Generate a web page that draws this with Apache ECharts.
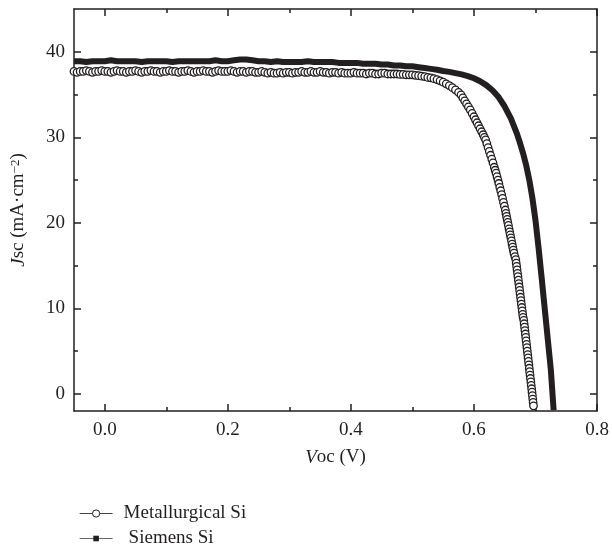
<!DOCTYPE html>
<html>
<head>
<meta charset="utf-8">
<script src="https://cdn.jsdelivr.net/npm/echarts@6/dist/echarts.min.js"></script>
<style>html,body{margin:0;padding:0;background:#fff}#c{width:612px;height:546px}</style>
</head>
<body>
<div id="c"></div>
<script>
// ---- data ----
const xMajorTicks = [0.0, 0.2, 0.4, 0.6, 0.8];
const xMinorTicks = [0.1, 0.3, 0.5, 0.7];
const yMajorTicks = [0, 10, 20, 30, 40];
const yMinorTicks = [5, 15, 25, 35];
const seriesNames = ['Metallurgical Si', 'Siemens Si'];

// Metallurgical Si (open circles)
const metV = [
  -0.050,-0.045,-0.040,-0.035,-0.030,-0.025,-0.020,-0.015,-0.010,-0.005,
  0.000,0.005,0.010,0.015,0.020,0.025,0.030,0.035,0.040,0.045,
  0.050,0.055,0.060,0.065,0.070,0.075,0.080,0.085,0.090,0.095,
  0.100,0.105,0.110,0.115,0.120,0.125,0.130,0.135,0.140,0.145,
  0.150,0.155,0.160,0.165,0.170,0.175,0.180,0.185,0.190,0.195,
  0.200,0.205,0.210,0.215,0.220,0.225,0.230,0.235,0.240,0.245,
  0.250,0.255,0.260,0.265,0.270,0.275,0.280,0.285,0.290,0.295,
  0.300,0.305,0.310,0.315,0.320,0.325,0.330,0.335,0.340,0.345,
  0.350,0.355,0.360,0.365,0.370,0.375,0.380,0.385,0.390,0.395,
  0.400,0.405,0.410,0.415,0.420,0.425,0.430,0.435,0.440,0.445,
  0.450,0.455,0.460,0.465,0.470,0.475,0.480,0.485,0.490,0.495,
  0.500,0.505,0.510,0.515,0.520,0.525,0.530,0.535,0.540,
  0.545,0.550,0.555,0.560,0.565,0.570,0.575,
  0.579,0.582,0.585,0.588,0.591,0.594,0.597,
  0.600,0.6025,0.605,0.6075,0.610,0.6125,0.615,0.617,0.619,
  0.621,0.623,0.625,0.627,0.629,0.631,0.633,0.6345,0.636,
  0.6375,0.639,0.6405,0.642,0.6435,0.645,0.6465,0.648,0.6495,0.651,0.652,
  0.653,0.654,0.655,0.656,0.657,0.658,0.659,0.660,0.661,0.662,0.663,0.664,0.665,0.6665,0.668,
  0.6687,0.6694,0.6701,0.6708,0.6715,0.6722,0.6729,0.6736,0.6743,0.6750,0.6757,0.6764,0.6771,0.6778,0.6785,0.6792,0.6799,0.6810,
  0.6816,0.6823,0.6829,0.6836,0.6842,0.6848,0.6855,0.6861,0.6867,0.6874,0.6880,0.6886,0.6893,0.6899,0.6905,0.6912,0.6918,0.6925,0.6931,0.6938,0.6944,0.6950,0.6956,0.6962,0.6968
];
const metJ = [
  37.7,37.6,37.7,37.7,37.8,37.7,37.6,37.7,37.7,37.8,
  37.7,37.7,37.6,37.7,37.8,37.7,37.7,37.6,37.7,37.7,
  37.8,37.7,37.6,37.7,37.7,37.8,37.7,37.7,37.6,37.7,
  37.7,37.8,37.7,37.7,37.6,37.7,37.7,37.8,37.7,37.6,
  37.7,37.7,37.8,37.7,37.7,37.6,37.7,37.8,37.7,37.7,
  37.7,37.8,37.7,37.6,37.7,37.7,37.6,37.7,37.7,37.6,
  37.6,37.7,37.6,37.5,37.6,37.5,37.5,37.6,37.5,37.6,
  37.6,37.5,37.6,37.6,37.7,37.6,37.6,37.7,37.6,37.6,
  37.7,37.6,37.6,37.5,37.6,37.6,37.5,37.6,37.5,37.5,
  37.5,37.6,37.5,37.5,37.5,37.4,37.5,37.5,37.4,37.4,
  37.5,37.5,37.4,37.4,37.4,37.4,37.35,37.35,37.3,37.3,
  37.3,37.25,37.2,37.15,37.1,37.0,36.95,36.85,36.75,
  36.6,36.45,36.25,36.05,35.8,35.55,35.25,
  34.95,34.6,34.25,33.9,33.55,33.2,32.8,
  32.4,32.05,31.7,31.35,31.0,30.65,30.3,30.0,29.7,
  29.25,28.8,28.35,27.9,27.45,27.0,26.5,26.15,25.8,
  25.4,25.0,24.6,24.15,23.75,23.3,22.85,22.4,21.95,21.5,21.1,
  20.75,20.4,20.05,19.7,19.3,18.95,18.6,18.25,17.9,17.5,17.15,16.8,16.45,16.05,15.7,
  15.3,14.9,14.5,14.1,13.7,13.3,12.9,12.5,12.1,11.7,11.3,10.9,10.5,10.1,9.7,9.3,8.95,8.6,
  8.2,7.8,7.4,7.0,6.6,6.2,5.8,5.4,5.0,4.6,4.2,3.8,3.4,3.0,2.6,2.2,1.8,1.4,1.0,0.6,0.2,-0.2,-0.6,-1.0,-1.4
];

// Siemens Si (filled squares, dense -> thick black trace)
const siemV = [
  -0.05,-0.04,-0.03,-0.02,-0.01,0.00,0.01,0.02,0.03,0.04,
  0.05,0.06,0.07,0.08,0.09,0.10,0.11,0.12,0.13,0.14,
  0.15,0.16,0.17,0.18,0.19,0.20,0.21,0.22,0.23,0.24,
  0.25,0.26,0.27,0.28,0.29,0.30,0.31,0.32,0.33,0.34,
  0.35,0.36,0.37,0.38,0.39,0.40,0.41,0.42,0.43,0.44,
  0.45,0.46,0.47,0.48,0.49,0.50,0.51,0.52,0.53,0.54,
  0.55,0.56,0.57,0.58,0.59,0.60,0.61,0.62,0.63,0.64,
  0.65,0.66,0.665,0.67,0.675,0.68,0.685,0.69,0.695,0.70,
  0.705,0.71,0.715,0.72,0.725,0.7295
];
const siemJ = [
  38.9,38.9,38.8,38.9,38.9,38.9,39.0,38.9,38.9,38.9,
  38.9,38.8,38.9,38.9,38.9,38.9,38.8,38.9,38.9,38.9,
  38.9,38.9,38.9,39.0,38.9,38.9,39.0,39.1,39.1,39.0,
  38.9,38.9,38.8,38.9,38.8,38.8,38.8,38.8,38.9,38.8,
  38.8,38.8,38.8,38.7,38.7,38.7,38.7,38.6,38.6,38.6,
  38.5,38.5,38.4,38.4,38.3,38.3,38.2,38.1,38.0,37.9,
  37.75,37.65,37.5,37.35,37.15,36.9,36.55,36.1,35.5,34.7,
  33.6,32.2,31.3,30.4,29.3,28.1,26.7,25.0,22.9,20.3,
  17.1,13.6,10.0,6.4,2.8,-1.9
];

const INK = '#231f20';
const FONT = '"Liberation Serif", "DejaVu Serif", serif';

function pairs(xs, ys) { return xs.map((x, i) => [x, ys[i]]); }

const baseX = { type: 'value', min: -0.05, max: 0.8, gridIndex: 0, splitLine: { show: false } };
const baseY = { type: 'value', min: -2, max: 45, gridIndex: 0, splitLine: { show: false } };
const lineSty = { show: true, onZero: false, lineStyle: { color: INK, width: 1.5 } };
const noLine = { show: false, onZero: false };
const tickSty = { color: INK, width: 1.5 };

const option = {
  animation: false,
  backgroundColor: '#fff',
  grid: { left: 74, right: 15, top: 9, bottom: 135, containLabel: false },
  xAxis: [
    Object.assign({}, baseX, {
      position: 'bottom', axisLine: lineSty,
      axisTick: { show: true, inside: true, length: 7, customValues: xMajorTicks, lineStyle: tickSty },
      axisLabel: { show: true, customValues: xMajorTicks, margin: 10, color: INK, fontFamily: FONT, fontSize: 19,
        formatter: v => v.toFixed(1) },
      name: '{i|V}{n|oc (V)}', nameLocation: 'middle', nameGap: 37,
      nameTextStyle: { rich: { i: { fontFamily: FONT, fontSize: 19, fontStyle: 'italic', color: INK },
                               n: { fontFamily: FONT, fontSize: 19, color: INK } } }
    }),
    Object.assign({}, baseX, { position: 'bottom', axisLine: noLine, axisLabel: { show: false },
      axisTick: { show: true, inside: true, length: 4, customValues: xMinorTicks, lineStyle: tickSty } }),
    Object.assign({}, baseX, { position: 'top', axisLine: lineSty, axisLabel: { show: false },
      axisTick: { show: true, inside: true, length: 7, customValues: xMajorTicks, lineStyle: tickSty } }),
    Object.assign({}, baseX, { position: 'top', axisLine: noLine, axisLabel: { show: false },
      axisTick: { show: true, inside: true, length: 4, customValues: xMinorTicks, lineStyle: tickSty } })
  ],
  yAxis: [
    Object.assign({}, baseY, {
      position: 'left', axisLine: lineSty,
      axisTick: { show: true, inside: true, length: 7, customValues: yMajorTicks, lineStyle: tickSty },
      axisLabel: { show: true, customValues: yMajorTicks, margin: 9, color: INK, fontFamily: FONT, fontSize: 19 },
      name: '{i|J}{n|sc (mA·cm}{s|−2}{n|)}', nameLocation: 'middle', nameGap: 46,
      nameTextStyle: { rich: { i: { fontFamily: FONT, fontSize: 19, fontStyle: 'italic', color: INK },
                               n: { fontFamily: FONT, fontSize: 19, color: INK },
                               s: { fontFamily: FONT, fontSize: 13, color: INK, verticalAlign: 'top' } } }
    }),
    Object.assign({}, baseY, { position: 'left', axisLine: noLine, axisLabel: { show: false },
      axisTick: { show: true, inside: true, length: 4, customValues: yMinorTicks, lineStyle: tickSty } }),
    Object.assign({}, baseY, { position: 'right', axisLine: lineSty, axisLabel: { show: false },
      axisTick: { show: true, inside: true, length: 7, customValues: yMajorTicks, lineStyle: tickSty } }),
    Object.assign({}, baseY, { position: 'right', axisLine: noLine, axisLabel: { show: false },
      axisTick: { show: true, inside: true, length: 4, customValues: yMinorTicks, lineStyle: tickSty } })
  ],
  legend: [
    { data: [{ name: seriesNames[0] }], left: 74, top: 499, orient: 'vertical', itemWidth: 33, itemHeight: 9,
      textStyle: { fontFamily: FONT, fontSize: 19, color: INK, padding: [0, 0, 0, 6] },
      lineStyle: { width: 1.2, color: '#444' },
      itemStyle: { color: '#fff', borderColor: INK, borderWidth: 1 } },
    { data: [{ name: seriesNames[1] }], left: 74, top: 524, orient: 'vertical', itemWidth: 33, itemHeight: 7,
      textStyle: { fontFamily: FONT, fontSize: 19, color: INK, padding: [0, 0, 0, 11] },
      lineStyle: { width: 1.2, color: '#666' },
      itemStyle: { color: INK, borderWidth: 0 } }
  ],
  series: [
    {
      name: seriesNames[0], type: 'line', xAxisIndex: 0, yAxisIndex: 0,
      data: pairs(metV, metJ), symbol: 'circle', symbolSize: 7.5, showSymbol: true, showAllSymbol: true,
      clip: true, z: 3,
      lineStyle: { color: '#333', width: 1 },
      itemStyle: { color: '#fff', borderColor: INK, borderWidth: 1.3 }
    },
    {
      name: seriesNames[1], type: 'line', xAxisIndex: 0, yAxisIndex: 0,
      data: pairs(siemV, siemJ), symbol: 'rect', symbolSize: 5, showSymbol: false,
      clip: true, z: 2,
      lineStyle: { color: INK, width: 6, join: 'round', cap: 'butt' },
      itemStyle: { color: INK }
    }
  ]
};

const chart = echarts.init(document.getElementById('c'), null, { renderer: 'canvas' });
chart.setOption(option);
</script>
</body>
</html>
